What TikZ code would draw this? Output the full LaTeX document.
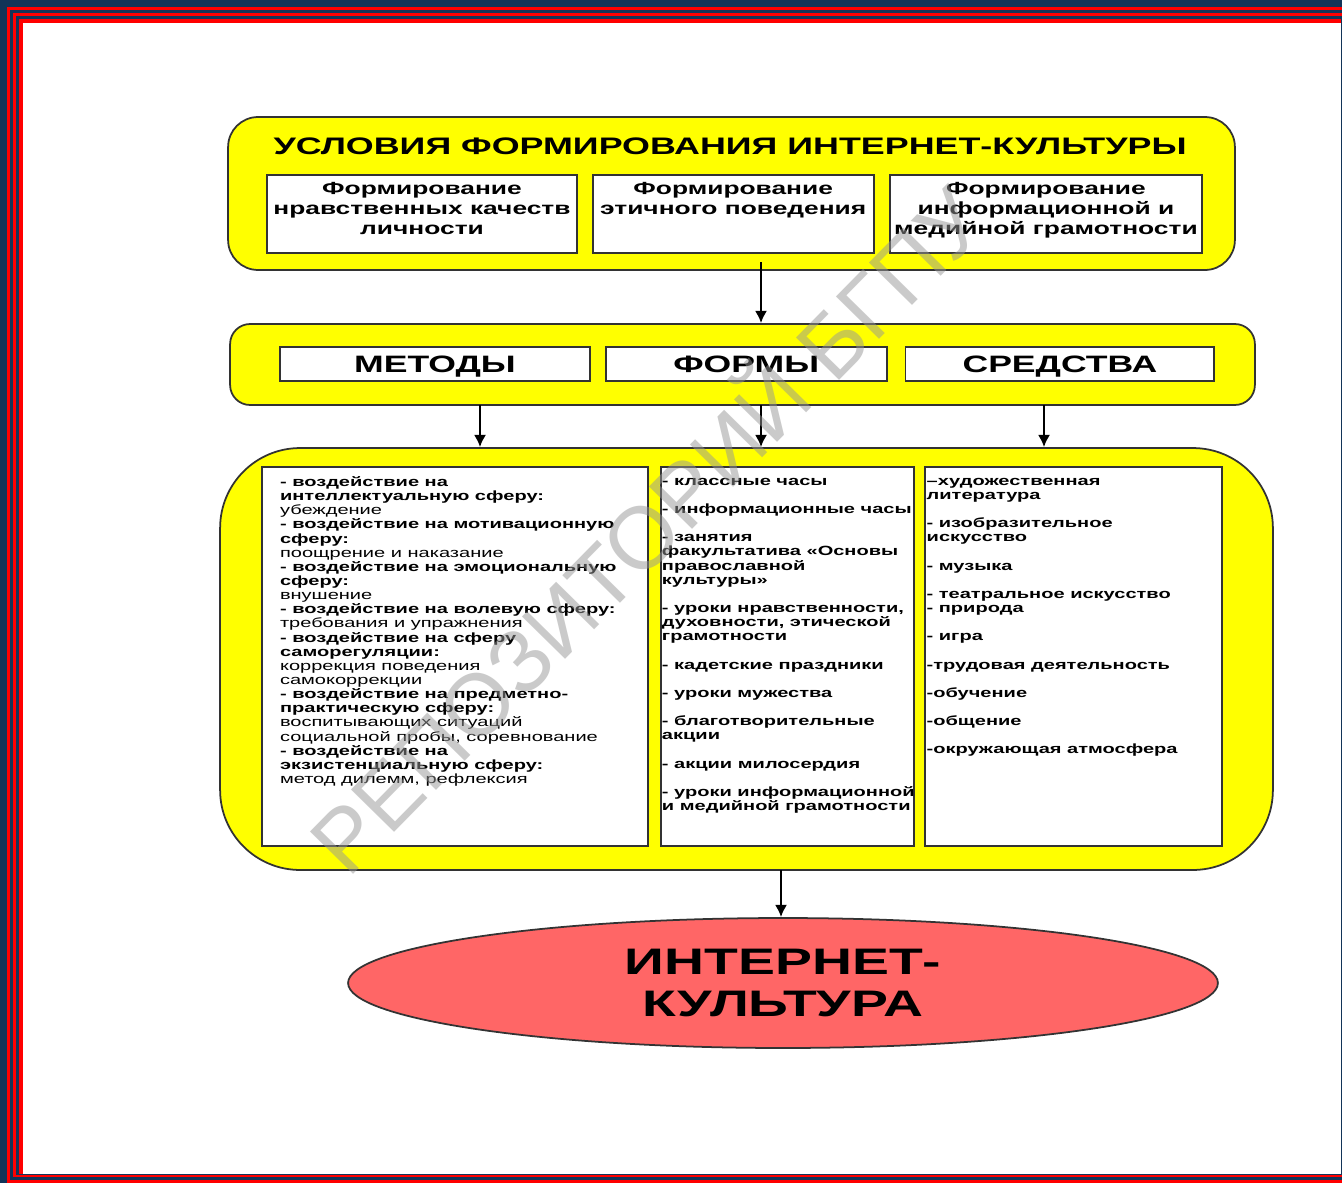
\documentclass[tikz,border=0pt]{standalone}
\usepackage{fontspec}
\setmainfont{Liberation Sans}[FakeStretch=1.5]
\newfontfamily\wmfont{Liberation Sans}
\usetikzlibrary{positioning,shapes.geometric,arrows.meta}
\definecolor{navy}{RGB}{18,52,88}
\definecolor{stripe}{RGB}{255,0,0}
\definecolor{ylw}{RGB}{255,255,0}
\definecolor{salmon}{RGB}{255,102,102}
\definecolor{wmgray}{RGB}{150,150,150}
\tikzset{>={Latex[length=7pt,width=7pt]}}
\tikzset{
  panel/.style={draw=black!80, line width=1pt, fill=ylw},
  cell/.style={draw=black!80, line width=1pt, fill=white, inner sep=0pt},
  headbox/.style={cell, minimum height=1.56cm, font=\fontsize{10}{11.4}\selectfont\bfseries},
  tabbox/.style={cell, minimum height=0.68cm, text height=9.7pt, text depth=0pt, font=\fontsize{13.5}{15}\selectfont\bfseries},
  colbox/.style={cell, minimum height=7.58cm, font=\fontsize{7.6}{8.05}\selectfont\bfseries},
  arr/.style={->, line width=1.6pt},
}

\begin{document}
\begin{tikzpicture}[x=0.02cm, y=-0.02cm]
\useasboundingbox (0,0) rectangle (1342,1183);
% frame
\fill[navy] (0,0) rectangle (1342,1183);
\fill[stripe] (7,7) rectangle (1342,1183);
\fill[navy] (10,10) rectangle (1342,1179.7);
\fill[stripe] (12.5,13) rectangle (1342,1177.3);
\fill[navy] (16,16) rectangle (1342,1175.3);
\fill[stripe] (19,19) rectangle (1341,1174);
\fill[white] (22.5,22.5) rectangle (1341,1174);

% conditions
\node[panel, rounded corners=0.6cm, minimum width=20.14cm, minimum height=3.06cm] (cond) at (731.5,193.5) {};
\node[font=\fontsize{13.6}{15}\selectfont\bfseries] (title) at (730,146) {УСЛОВИЯ ФОРМИРОВАНИЯ ИНТЕРНЕТ-КУЛЬТУРЫ};
\node[headbox] (moral) at (422,214) {\parbox[c][1.28cm][t]{6.2cm}{\centering Формирование\\ нравственных качеств\\ личности}};
\node[headbox, right=0.28cm of moral] (ethic) {\parbox[c][1.28cm][t]{5.62cm}{\centering Формирование\\ этичного поведения}};
\node[headbox, right=0.29cm of ethic] (media) {\parbox[c][1.28cm][t]{6.24cm}{\centering Формирование\\ информационной и\\ медийной грамотности}};

% methods, forms, means
\node[panel, rounded corners=0.4cm, minimum width=20.5cm, minimum height=1.62cm] (tools) at (742.5,364.5) {};
\node[tabbox, minimum width=6.2cm] (methods) at (435,364) {МЕТОДЫ};
\node[tabbox, minimum width=5.62cm, right=0.28cm of methods] (forms) {ФОРМЫ};
\node[tabbox, minimum width=6.18cm, right=0.34cm of forms] (means) {СРЕДСТВА};

% lists
\node[panel, rounded corners=1.6cm, minimum width=21.06cm, minimum height=8.44cm] (content) at (746.5,659) {};
\node[colbox, minimum width=7.72cm] (mlist) at (455,656.5) {\parbox[c][7.2cm][t]{7.0cm}{\raggedright
- воздействие на\\
интеллектуальную сферу:\\
{\mdseries убеждение}\\
- воздействие на мотивационную\\
сферу:\\
{\mdseries поощрение и наказание}\\
- воздействие на эмоциональную\\
сферу:\\
{\mdseries внушение}\\
- воздействие на волевую сферу:\\
{\mdseries требования и упражнения}\\
- воздействие на сферу\\
саморегуляции:\\
{\mdseries коррекция поведения}\\
{\mdseries самокоррекции}\\
- воздействие на предметно-\\
практическую сферу:\\
{\mdseries воспитывающих ситуаций}\\
{\mdseries социальной пробы, соревнование}\\
- воздействие на\\
экзистенциальную сферу:\\
{\mdseries метод дилемм, рефлексия}}};
\node[colbox, minimum width=5.06cm, right=0.225cm of mlist] (flist) {\parbox[c][7.14cm][t]{5.02cm}{\raggedright
- классные часы\\[8.05pt]
- информационные часы\\[8.05pt]
- занятия\\
факультатива «Основы\\
православной\\
культуры»\\[8.05pt]
- уроки нравственности,\\
духовности, этической\\
грамотности\\[8.05pt]
- кадетские праздники\\[8.05pt]
- уроки мужества\\[8.05pt]
- благотворительные\\
акции\\[8.05pt]
- акции милосердия\\[8.05pt]
\mbox{- уроки информационной}\\
и медийной грамотности}};
\node[colbox, minimum width=5.94cm, right=0.18cm of flist] (slist) {\parbox[c][7.14cm][t]{5.86cm}{\raggedright
–художественная\\
литература\\[8.05pt]
- изобразительное\\
искусство\\[8.05pt]
- музыка\\[8.05pt]
- театральное искусство\\
- природа\\[8.05pt]
- игра\\[8.05pt]
-трудовая деятельность\\[8.05pt]
-обучение\\[8.05pt]
-общение\\[8.05pt]
-окружающая атмосфера}};

% result
\node[ellipse, draw=black!80, line width=1pt, fill=salmon, minimum width=17.4cm, minimum height=2.6cm, align=center, font=\fontsize{21}{23.6}\selectfont\bfseries] (net) at (783,983) {ИНТЕРНЕТ-\\КУЛЬТУРА};

% arrows
\coordinate (a0) at (761,262);
\coordinate (a1) at (480,405);
\coordinate (a2) at (761,405);
\coordinate (a3) at (1044,405);
\coordinate (a4) at (781,870);
\draw[arr] (a0) -- (a0 |- tools.north);
\draw[arr] (a1) -- (a1 |- content.north);
\draw[arr] (a2) -- (a2 |- content.north);
\draw[arr] (a3) -- (a3 |- content.north);
\draw[arr] (a4) -- (a4 |- net.north);

% watermark
\node[rotate=45.5, font=\wmfont\fontsize{50}{54}\selectfont, text=wmgray, text opacity=0.5] (wm) at (642,525) {РЕПОЗИТОРИЙ БГПУ};
\end{tikzpicture}
\end{document}
